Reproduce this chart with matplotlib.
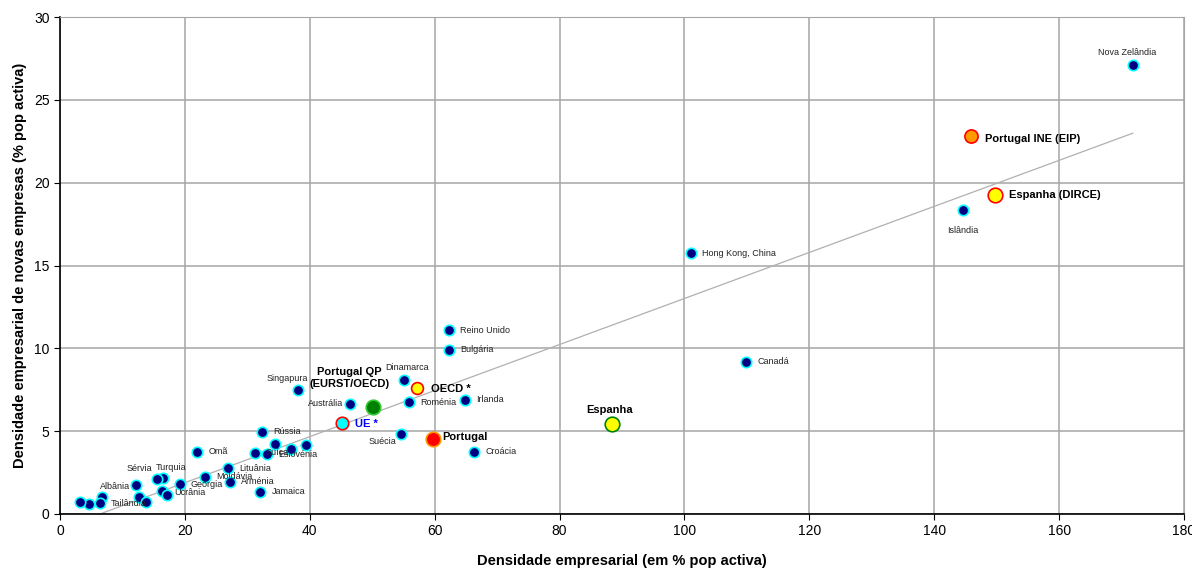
import matplotlib.pyplot as plt
import numpy as np

plt.rcParams['font.family'] = ['Liberation Sans', 'DejaVu Sans']

# -- DADOS --
# países (pontos azuis)
paises = ['Nova Zelândia', 'Islândia', 'Hong Kong, China', 'Canadá', 'Reino Unido',
          'Bulgária', 'Dinamarca', 'Roménia', 'Irlanda', 'Singapura', 'Austrália',
          'Suécia', 'Croácia', 'Rússia', '', '', '', 'Suíça', 'Eslovénia', 'Omã',
          'Lituânia', 'Moldávia', 'Arménia', 'Geórgia', 'Jamaica', 'Ucrânia', '',
          'Turquia', 'Sérvia', 'Albânia', '', '', '', 'Tailândia', '', '']
dens_emp = [171.8, 144.6, 101.1, 109.9, 62.3,
            62.3, 55.1, 55.9, 64.9, 38.1, 46.4,
            54.6, 66.3, 32.4, 34.5, 39.4, 37.0, 31.2, 33.2, 22.0,
            26.9, 23.3, 27.2, 19.2, 32.1, 16.3, 17.2,
            16.5, 15.6, 12.2, 12.6, 13.7, 6.7, 6.4, 4.6, 3.15]
dens_novas = [27.1, 18.35, 15.75, 9.2, 11.1,
              9.9, 8.1, 6.75, 6.9, 7.5, 6.65,
              4.85, 3.75, 4.95, 4.2, 4.15, 3.95, 3.7, 3.6, 3.75,
              2.75, 2.25, 1.95, 1.8, 1.35, 1.4, 1.15,
              2.15, 2.1, 1.75, 1.05, 0.7, 1.05, 0.65, 0.6, 0.7]

# pontos de destaque
destaques = ['Portugal INE (EIP)', 'Espanha (DIRCE)', 'OECD *', 'Portugal QP\n(EURST/OECD)',
             'UE *', 'Portugal', 'Espanha']
dest_x = [145.9, 149.7, 57.2, 50.1, 45.2, 59.7, 88.4]
dest_y = [22.8, 19.25, 7.6, 6.45, 5.5, 4.5, 5.45]

# linha de tendência
tend_declive = 0.139
tend_ordenada = -0.89

# -- ESTILOS --
# deslocamento dos rótulos (pontos) e alinhamento
desl_paises = {
    'Nova Zelândia': (-4, 9, 'center'), 'Islândia': (0, -15, 'center'),
    'Dinamarca': (2, 9, 'center'), 'Singapura': (-8, 8, 'center'),
    'Austrália': (-5, 0, 'right'), 'Suécia': (-3, -6, 'right'),
    'Turquia': (6, 8, 'center'), 'Sérvia': (-13, 8, 'center'),
    'Albânia': (-4, -1, 'right'), 'Ucrânia': (9, -1, 'left'),
}
dest_estilo = [
    ('#FF9900', '#FF0000', 9.5, (10, -2, 'left'), 'black'),
    ('#FFFF00', '#FF0000', 10.5, (10, 0, 'left'), 'black'),
    ('#FFFF00', '#FF0000', 8.5, (10, -1, 'left'), 'black'),
    ('#008000', '#33CC33', 10.5, (-17, 21, 'center'), 'black'),
    ('#00FFFF', '#FF0000', 9, (9, -1, 'left'), '#0000FF'),
    ('#FF0000', '#FF9900', 10.5, (7, 2, 'left'), 'black'),
    ('#FFFF00', '#008000', 10.5, (-2, 10, 'center'), 'black'),
]

# -- VISUALIZAÇÃO --
fig = plt.figure(figsize=(11.92, 5.69), dpi=100)
ax = fig.add_axes([0.0503, 0.0967, 0.943, 0.8733])

ax.set_xlim(0, 180); ax.set_ylim(0, 30)
ax.set_xticks(np.arange(0, 181, 20)); ax.set_yticks(np.arange(0, 31, 5))
ax.grid(True, color='#a6a6a6', linewidth=1.1)
ax.set_axisbelow(True)
for s in ['top', 'right']:
    ax.spines[s].set_color('#a6a6a6')
for s in ['left', 'bottom']:
    ax.spines[s].set_color('black'); ax.spines[s].set_linewidth(1.2)
ax.tick_params(direction='out', length=4, labelsize=10)

# tendência
xt = np.array([min(dens_emp), max(dens_emp)])
ax.plot(xt, tend_declive * xt + tend_ordenada, color='#b0b0b0', linewidth=0.9, zorder=2)

ax.plot(dens_emp, dens_novas, 'o', markersize=7.5, markerfacecolor='#000080',
        markeredgecolor='#00FFFF', markeredgewidth=1.2, zorder=3)

for nome, x, y in zip(paises, dens_emp, dens_novas):
    if not nome:
        continue
    dx, dy, ha = desl_paises.get(nome, (8, 0, 'left'))
    ax.annotate(nome, (x, y), xytext=(dx, dy), textcoords='offset points',
                ha=ha, va='center', fontsize=6.5, color='#222222', zorder=4)

for nome, x, y, (fc, ec, ms, (dx, dy, ha), cor) in zip(destaques, dest_x, dest_y, dest_estilo):
    ax.plot([x], [y], 'o', markersize=ms, markerfacecolor=fc, markeredgecolor=ec,
            markeredgewidth=1.2, zorder=5)
    ax.annotate(nome, (x, y), xytext=(dx, dy), textcoords='offset points',
                ha=ha, va='center', fontsize=8, fontweight='bold', color=cor,
                linespacing=1.2, zorder=6)

ax.set_xlabel('Densidade empresarial (em % pop activa)', fontsize=10.5, fontweight='bold', labelpad=11)
ax.set_ylabel('Densidade empresarial de novas empresas (% pop activa)', fontsize=10.5,
              fontweight='bold', labelpad=5)

plt.savefig('out.png', dpi=100)
